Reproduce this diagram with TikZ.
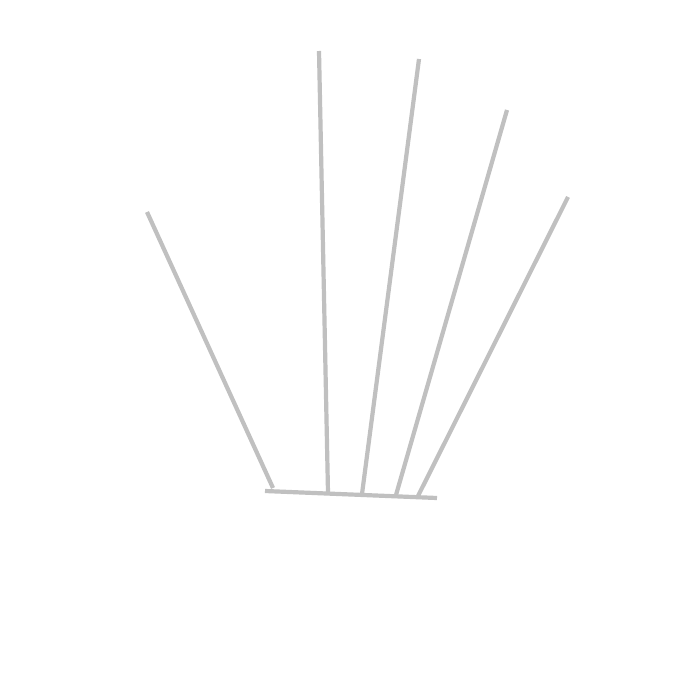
\documentclass[tikz,border=0pt]{standalone}
\definecolor{stick}{HTML}{C0C0C0}
\begin{document}
\begin{tikzpicture}[x=1pt,y=-1pt,stickline/.style={draw=stick,line width=4.2pt}]
\useasboundingbox[fill=white] (0,0) rectangle (700,700);
\coordinate (b1) at (265,491);
\coordinate (b2) at (437,498);
\coordinate (t1) at (147,212);
\coordinate (f1) at (273,488);
\coordinate (t2) at (319,51);
\coordinate (f2) at (328,493);
\coordinate (t3) at (419,59);
\coordinate (f3) at (362,494);
\coordinate (t4) at (507,110);
\coordinate (f4) at (396,495);
\coordinate (t5) at (568,197);
\coordinate (f5) at (418,496);
\draw[stickline] (b1) -- (b2);
\draw[stickline] (t1) -- (f1);
\draw[stickline] (t2) -- (f2);
\draw[stickline] (t3) -- (f3);
\draw[stickline] (t4) -- (f4);
\draw[stickline] (t5) -- (f5);
\end{tikzpicture}
\end{document}
